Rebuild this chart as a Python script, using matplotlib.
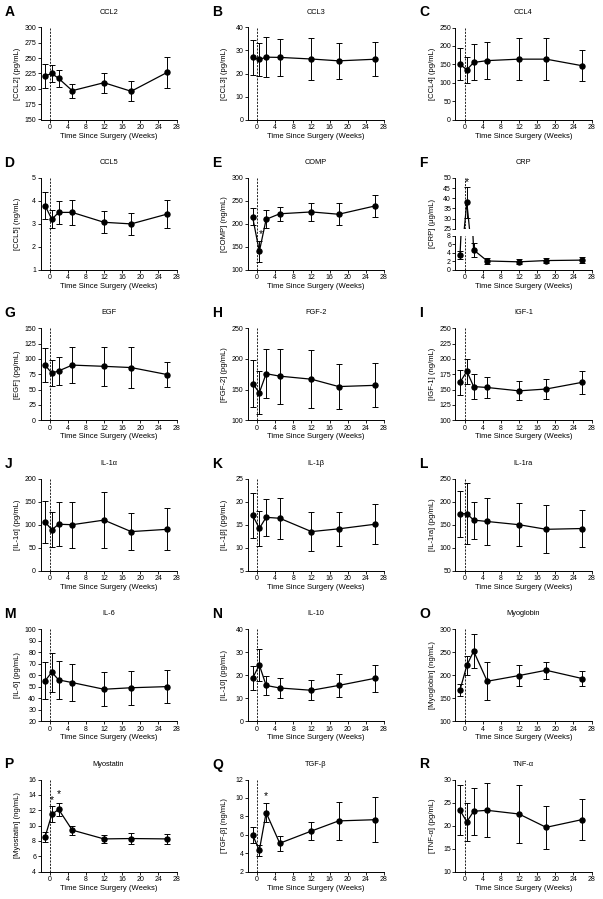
import matplotlib
matplotlib.use('Agg')
import matplotlib.pyplot as plt

plt.rcParams['font.family'] = ['Liberation Sans', 'DejaVu Sans']

# ---------------- data ----------------
weeks = [-1, 0.5, 2, 5, 12, 18, 26]
xticks = [0, 4, 8, 12, 16, 20, 24, 28]
xlabel = "Time Since Surgery (Weeks)"

letters = list("ABCDEFGHIJKLMNOPQR")
titles = ["CCL2", "CCL3", "CCL4", "CCL5", "COMP", "CRP", "EGF", "FGF-2", "IGF-1",
          "IL-1α", "IL-1β", "IL-1ra", "IL-6", "IL-10", "Myoglobin", "Myostatin",
          "TGF-β", "TNF-α"]
ylabels = ["[CCL2] (pg/mL)", "[CCL3] (pg/mL)", "[CCL4] (pg/mL)", "[CCL5] (ng/mL)",
           "[COMP] (ng/mL)", "[CRP] (μg/mL)", "[EGF] (pg/mL)", "[FGF-2] (pg/mL)",
           "[IGF-1] (ng/mL)", "[IL-1α] (pg/mL)", "[IL-1β] (pg/mL)", "[IL-1ra] (pg/mL)",
           "[IL-6] (pg/mL)", "[IL-10] (pg/mL)", "[Myoglobin] (ng/mL)",
           "[Myostatin] (ng/mL)", "[TGF-β] (ng/mL)", "[TNF-α] (pg/mL)"]

ccl2_mean = [221, 225, 217, 197, 210, 196, 227]
ccl2_err = [20, 14.5, 13.5, 11.5, 16, 16, 25]
ccl3_mean = [27, 26.1, 27.1, 27, 26.3, 25.5, 26.2]
ccl3_err = [7.5, 7.3, 8.6, 8, 9, 7.8, 7.4]
ccl4_mean = [150, 135, 155, 160, 164, 164, 146]
ccl4_err = [43, 35, 49, 51, 58, 58, 42]
ccl5_mean = [3.8, 3.2, 3.5, 3.5, 3.07, 3.0, 3.43]
ccl5_err = [0.6, 0.4, 0.5, 0.55, 0.48, 0.47, 0.62]
comp_mean = [216, 140, 210, 222, 226, 221, 239]
comp_err = [19, 23, 20, 15, 19, 24, 24]
crp_mean = [3.5, 38, 4.7, 2.1, 1.9, 2.2, 2.3]
crp_err = [1.0, 7.7, 1.6, 0.6, 0.6, 0.65, 0.75]
egf_mean = [90, 77, 80.5, 90, 88, 86, 74.5]
egf_err = [28, 21, 23, 29, 32, 33, 20]
fgf2_mean = [160, 145, 176, 172, 167, 155, 157]
fgf2_err = [39, 35, 40, 45, 47, 37, 36]
igf1_mean = [162, 180, 155, 153.5, 148, 151, 162]
igf1_err = [20, 20, 20, 17, 15.5, 16, 19]
il1a_mean = [106, 89, 101, 100, 110, 85, 90]
il1a_err = [46, 38, 48, 50, 61, 41, 46]
il1b_mean = [17.1, 14.2, 16.6, 16.4, 13.5, 14.1, 15.1]
il1b_err = [4.9, 3.8, 4.0, 4.4, 4.3, 3.7, 4.3]
il1ra_mean = [174, 174, 160, 157, 150, 140, 141.7]
il1ra_err = [50, 67, 40, 51, 47, 52, 41]
il6_mean = [55, 62.5, 55.8, 53.5, 47.7, 49, 50]
il6_err = [16, 17, 16.5, 16, 14.7, 15, 14.5]
il10_mean = [18.6, 24.4, 15.5, 14.4, 13.4, 15.5, 18.6]
il10_err = [5.2, 7.0, 4.3, 4.3, 4.3, 5.0, 5.9]
myoglobin_mean = [168, 221, 252, 186.6, 199, 210.5, 192.4]
myoglobin_err = [13.5, 20, 37, 41, 22, 18, 16.6]
myostatin_mean = [8.5, 11.45, 12.1, 9.4, 8.25, 8.3, 8.25]
myostatin_err = [0.67, 1.05, 0.9, 0.6, 0.5, 0.72, 0.7]
tgfb_mean = [6.0, 4.3, 8.4, 5.07, 6.4, 7.5, 7.63]
tgfb_err = [0.85, 0.6, 1.0, 0.83, 0.93, 2.05, 2.45]
tnfa_mean = [23.3, 20.8, 23.1, 23.3, 22.5, 19.6, 21.3]
tnfa_err = [5.4, 4.2, 5.1, 5.9, 6.4, 4.6, 4.4]

means = [ccl2_mean, ccl3_mean, ccl4_mean, ccl5_mean, comp_mean, crp_mean,
         egf_mean, fgf2_mean, igf1_mean, il1a_mean, il1b_mean, il1ra_mean,
         il6_mean, il10_mean, myoglobin_mean, myostatin_mean, tgfb_mean, tnfa_mean]
errs = [ccl2_err, ccl3_err, ccl4_err, ccl5_err, comp_err, crp_err,
        egf_err, fgf2_err, igf1_err, il1a_err, il1b_err, il1ra_err,
        il6_err, il10_err, myoglobin_err, myostatin_err, tgfb_err, tnfa_err]

# y axis (min, max, step)
yaxes = [(150, 300, 25), (0, 40, 10), (0, 250, 50), (1, 5, 1), (100, 300, 50), None,
         (0, 150, 25), (100, 250, 50), (100, 250, 25), (0, 200, 50), (5, 25, 5),
         (50, 250, 50), (20, 100, 10), (0, 40, 10), (100, 300, 50), (4, 16, 2),
         (2, 12, 2), (10, 30, 5)]
crp_low = (0, 8, 2)
crp_high = (25, 50, 5)

# significance markers: panel index -> list of (week, value)
stars = {4: [(0.9, 177)], 5: [(0.5, 48)], 15: [(0.5, 13.3), (2, 14.1)], 16: [(2, 10.2)]}

# ---------------- layout ----------------
W, H = 603, 899
fig = plt.figure(figsize=(W / 100, H / 100), dpi=100)
col_left = [40.5, 248, 455.5]
ax_w = 136
ax_h = 92
row_top0 = 27.5
row_pitch = 150.4

tick_fs = 5
lab_fs = 5.5
title_fs = 5.3
letter_fs = 10


def px_axes(left, top, w, h):
    return fig.add_axes([left / W, 1 - (top + h) / H, w / W, h / H])


def style(ax, show_x=True):
    for s in ['top', 'right']:
        ax.spines[s].set_visible(False)
    for s in ['left', 'bottom']:
        ax.spines[s].set_linewidth(0.7)
    ax.tick_params(direction='out', length=2, width=0.6, labelsize=tick_fs, pad=1.2)
    ax.set_xlim(-2, 28)
    if show_x:
        ax.set_xticks(xticks)
    else:
        ax.spines['bottom'].set_visible(False)
        ax.set_xticks([])


def draw(ax, m, e):
    ax.errorbar(weeks, m, yerr=e, fmt='-o', color='black', ms=3.6, lw=0.9,
                elinewidth=0.7, capsize=2.2, capthick=0.7)
    ax.axvline(0, ls=(0, (2.5, 1.5)), color='black', lw=0.6, zorder=0)


for i in range(18):
    r, c = divmod(i, 3)
    left = col_left[c]
    top = row_top0 + r * row_pitch
    cx = (left + ax_w / 2) / W
    fig.text((left - 36) / W, 1 - (top - 15) / H, letters[i], fontsize=letter_fs,
             fontweight='bold', ha='left', va='center')
    fig.text(cx, 1 - (top - 15.5) / H, titles[i], fontsize=title_fs, ha='center', va='center')

    if yaxes[i] is None:
        # broken axis (CRP)
        low_h = 34
        high_h = 51
        axb = px_axes(left, top + ax_h - low_h, ax_w, low_h)
        axt = px_axes(left, top, ax_w, high_h)
        for a, (lo, hi, st), sx in [(axb, crp_low, True), (axt, crp_high, False)]:
            style(a, show_x=sx)
            draw(a, means[i], errs[i])
            a.set_ylim(lo, hi)
            a.set_yticks(list(range(lo, hi + 1, st)))
        axb.set_xlabel(xlabel, fontsize=lab_fs, va='center')
        axb.xaxis.set_label_coords(0.5, -0.18 * ax_h / low_h)
        fig.text((left - 23.2) / W, 1 - (top + ax_h / 2) / H, ylabels[i], fontsize=lab_fs,
                 rotation=90, ha='center', va='center')
        for (sx_, sy_) in stars.get(i, []):
            axt.text(sx_, sy_, '*', fontsize=7.5, ha='center', va='center')
        continue

    ax = px_axes(left, top, ax_w, ax_h)
    style(ax)
    draw(ax, means[i], errs[i])
    lo, hi, st = yaxes[i]
    ax.set_ylim(lo, hi)
    ticks = []
    v = lo
    while v <= hi + 1e-9:
        ticks.append(v)
        v += st
    ax.set_yticks(ticks)
    ax.set_xlabel(xlabel, fontsize=lab_fs, va='center')
    ax.xaxis.set_label_coords(0.5, -0.18)
    ax.set_ylabel(ylabels[i], fontsize=lab_fs, va='center')
    ax.yaxis.set_label_coords(-23.2 / ax_w, 0.5)
    for (sx_, sy_) in stars.get(i, []):
        ax.text(sx_, sy_, '*', fontsize=7.5, ha='center', va='center')

fig.savefig('out.png', dpi=100)
